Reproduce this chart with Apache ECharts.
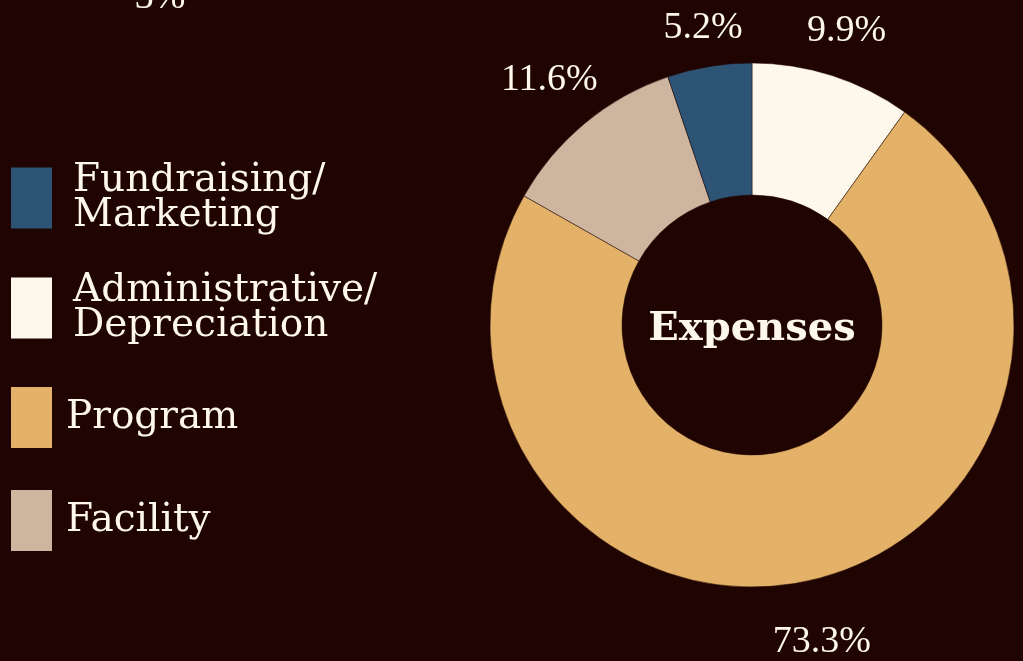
<!DOCTYPE html>
<html>
<head>
<meta charset="utf-8">
<script src="https://cdn.jsdelivr.net/npm/echarts@6/dist/echarts.min.js"></script>
<style>
  html, body { margin: 0; padding: 0; background: #1f0402; }
  #chart { width: 1023px; height: 661px; }
</style>
</head>
<body>
<div id="chart"></div>
<script>
// slices, clockwise from 12 o'clock
const categories = ['Administrative/\nDepreciation', 'Program', 'Facility', 'Fundraising/\nMarketing']
const values = [9.9, 73.3, 11.6, 5.2]
const colors = ['#fef8ec', '#e3b167', '#cdb5a0', '#2e5475']
// distance of each percent label from the centre
const labelRadius = [309, 325, 318, 301]
// legend order (top to bottom)
const legendOrder = ['Fundraising/\nMarketing', 'Administrative/\nDepreciation', 'Program', 'Facility']
const legendTops = [161, 271, 385, 488]

const cream = '#fef8ec'
const bg = '#1f0402'
const serif = 'Liberation Serif'
const cx = 752, cy = 325

const chart = echarts.init(document.getElementById('chart'))

const total = values.reduce((a, b) => a + b, 0)
const midAngles = []
let acc = 0
values.forEach(v => {
  midAngles.push((acc + v / 2) / total * Math.PI * 2)
  acc += v
})

const legends = legendOrder.map((name, i) => ({
  orient: 'vertical',
  left: 9,
  top: legendTops[i],
  padding: 0,
  data: [name],
  icon: 'rect',
  itemWidth: 43,
  itemHeight: 63,
  itemGap: 0,
  selectedMode: false,
  textStyle: {
    color: cream,
    fontFamily: 'DejaVu Serif',
    fontSize: 39,
    lineHeight: 35,
    padding: [0, 0, 0, name.indexOf('\n') > -1 ? 15 : 8]
  }
}))

chart.setOption({
  backgroundColor: bg,
  color: colors,
  animation: false,
  title: [{
    text: 'Expenses',
    left: cx - 5,
    top: cy,
    textAlign: 'center',
    textVerticalAlign: 'middle',
    textStyle: { color: cream, fontFamily: 'DejaVu Serif', fontWeight: 'bold', fontSize: 40 }
  }, {
    text: '3%',
    left: 155,
    top: -26,
    textAlign: 'center',
    textStyle: { color: cream, fontFamily: serif, fontWeight: 'normal', fontSize: 38 }
  }],
  legend: legends,
  series: [{
    type: 'pie',
    center: [cx, cy],
    radius: [130, 262],
    startAngle: 90,
    label: { show: false },
    labelLine: { show: false },
    itemStyle: { borderColor: bg, borderWidth: 0.5 },
    emphasis: { disabled: true },
    data: categories.map((name, i) => ({ name, value: values[i] }))
  }, {
    // invisible ring that carries the percent labels
    type: 'pie',
    center: [cx, cy],
    radius: [290, 336],
    startAngle: 90,
    silent: true,
    itemStyle: { color: 'transparent' },
    label: {
      show: true,
      position: 'inside',
      color: cream,
      fontFamily: serif,
      fontSize: 38,
      formatter: p => p.value.toFixed(1) + '%'
    },
    labelLine: { show: false },
    labelLayout: p => {
      const a = midAngles[p.dataIndex], r = labelRadius[p.dataIndex]
      return {
        x: cx + r * Math.sin(a),
        y: cy - r * Math.cos(a),
        align: 'center',
        verticalAlign: 'middle'
      }
    },
    data: categories.map((name, i) => ({ name: name + ' ', value: values[i] }))
  }]
})
</script>
</body>
</html>
